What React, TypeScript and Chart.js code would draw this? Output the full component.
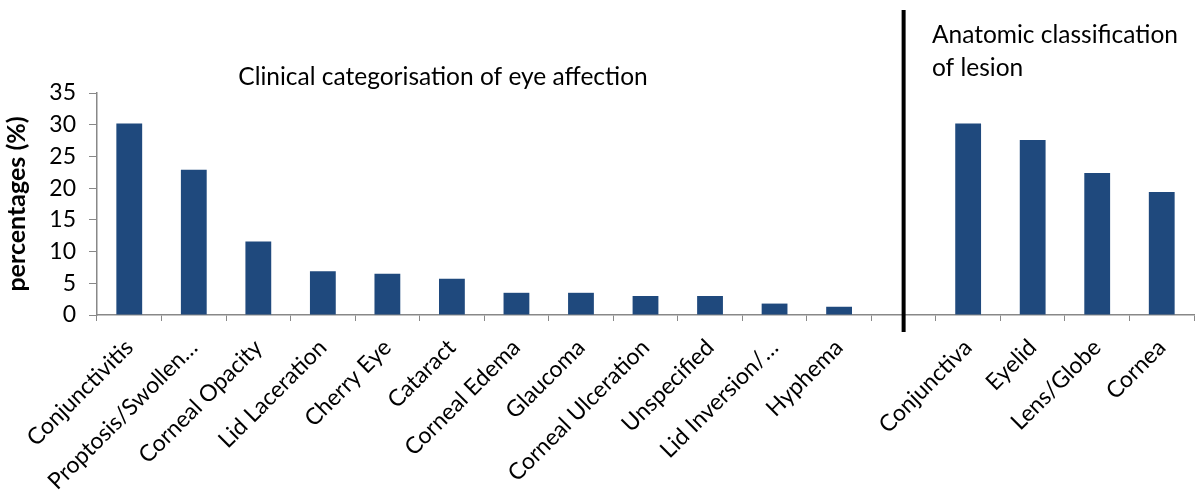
import React, { useEffect, useRef } from "react";
import { Chart, registerables } from "chart.js";

Chart.register(...registerables);

const categories: string[] = [
  "Conjunctivitis",
  "Proptosis/Swollen…",
  "Corneal Opacity",
  "Lid Laceration",
  "Cherry Eye",
  "Cataract",
  "Corneal Edema",
  "Glaucoma",
  "Corneal Ulceration",
  "Unspecified",
  "Lid Inversion/…",
  "Hyphema",
  "",
  "Conjunctiva",
  "Eyelid",
  "Lens/Globe",
  "Cornea",
];

const percentages: (number | null)[] = [
  30.2, 22.9, 11.6, 6.9, 6.5, 5.7, 3.5, 3.5, 3.0, 3.0, 1.8, 1.3,
  null,
  30.2, 27.6, 22.4, 19.4,
];

const yTicks: number[] = [0, 5, 10, 15, 20, 25, 30, 35];

const clinicalLabel = "Clinical categorisation of eye affection";
const anatomicLabel: string[] = ["Anatomic classification", "of lesion"];
const separatorIndex = 12;

const FONT = "Lato, 'Liberation Sans', sans-serif";

export default function App() {
  const ref = useRef<HTMLCanvasElement | null>(null);

  useEffect(() => {
    if (!ref.current) return;
    const annot = {
      id: "annot",
      afterDraw(chart: any) {
        const ctx = chart.ctx;
        const xs = chart.scales.x;
        const x = xs.getPixelForValue(separatorIndex);
        ctx.save();
        ctx.strokeStyle = "#000";
        ctx.lineWidth = 4;
        ctx.beginPath();
        ctx.moveTo(x, 10);
        ctx.lineTo(x, 332);
        ctx.stroke();
        ctx.fillStyle = "#000";
        ctx.font = `24.5px ${FONT}`;
        ctx.textBaseline = "alphabetic";
        ctx.textAlign = "center";
        ctx.fillText(clinicalLabel, 443, 85);
        ctx.textAlign = "left";
        ctx.fillText(anatomicLabel[0], 932, 43);
        ctx.fillText(anatomicLabel[1], 932, 76);
        ctx.restore();
      },
    };
    const chart = new Chart(ref.current, {
      type: "bar",
      data: {
        labels: categories,
        datasets: [
          {
            data: percentages,
            backgroundColor: "#1f497d",
            borderWidth: 0,
            barPercentage: 0.4,
            categoryPercentage: 1,
          },
        ],
      },
      options: {
        animation: false,
        responsive: false,
        devicePixelRatio: 1,
        layout: { padding: { top: 93, right: 3, left: 0, bottom: 0 } },
        plugins: { legend: { display: false }, tooltip: { enabled: false } },
        scales: {
          x: {
            grid: {
              display: true,
              drawOnChartArea: false,
              drawTicks: true,
              tickLength: 6,
              color: "#888",
              offset: true,
            },
            border: { color: "#888", width: 1.5 },
            ticks: {
              autoSkip: false,
              maxRotation: 45,
              minRotation: 45,
              color: "#000",
              font: { family: FONT, size: 23 },
              padding: 13,
            },
            afterFit: (s: any) => {
              s.height = 493 - 315;
            },
          },
          y: {
            min: 0,
            max: 35,
            afterBuildTicks: (s: any) => {
              s.ticks = yTicks.map((v) => ({ value: v }));
            },
            grid: {
              display: true,
              drawOnChartArea: false,
              drawTicks: true,
              tickLength: 8,
              color: "#888",
            },
            border: { color: "#888", width: 1.5 },
            ticks: {
              color: "#000",
              font: { family: FONT, size: 23 },
              padding: 13,
            },
            title: {
              display: true,
              text: "percentages (%)",
              color: "#000",
              font: { family: FONT, size: 25, weight: "bold" },
              padding: { top: 2, bottom: 0 },
            },
            afterFit: (s: any) => {
              s.width = 97;
            },
          },
        },
      },
      plugins: [annot],
    });
    return () => chart.destroy();
  }, []);

  return (
    <div
      style={{
        position: "fixed",
        left: 0,
        top: 0,
        width: 1197,
        height: 493,
        background: "#fff",
      }}
    >
      <canvas ref={ref} width={1197} height={493} style={{ width: 1197, height: 493 }} />
    </div>
  );
}
